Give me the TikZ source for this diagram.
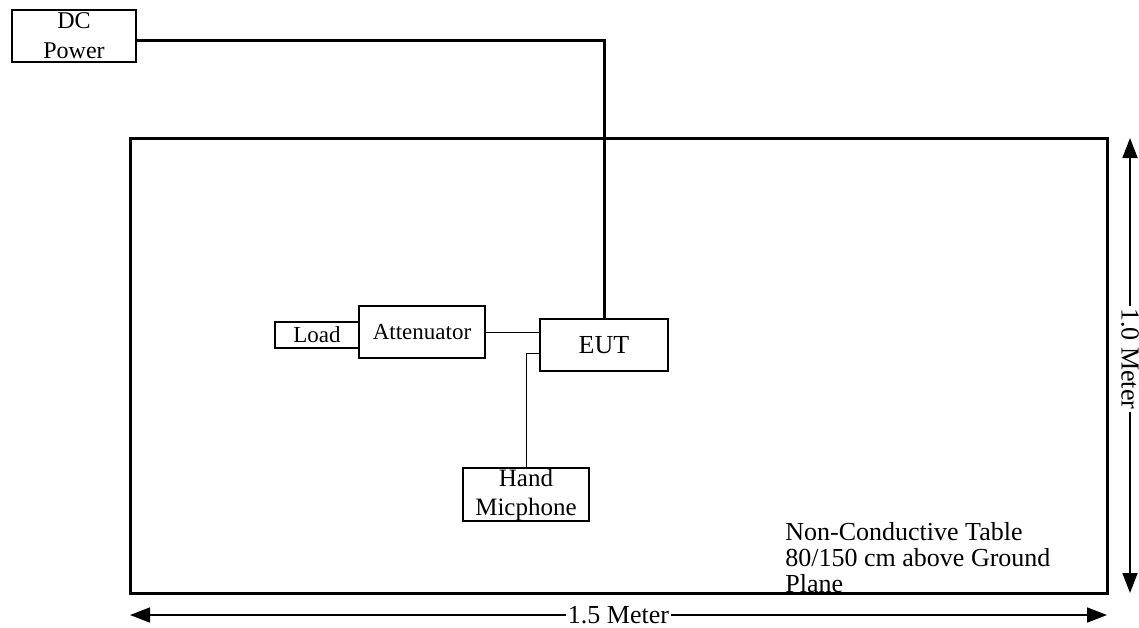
\documentclass[tikz,border=0pt]{standalone}
\usepackage{fontspec}
\setmainfont{Liberation Serif}
\usetikzlibrary{arrows.meta,positioning}

\begin{document}
\begin{tikzpicture}[x=0.5pt, y=-0.5pt,
  box/.style={draw, line width=0.65pt, inner sep=0pt, outer sep=0pt, align=center,
              font=\fontsize{13}{14.5}\selectfont},
  pwr/.style={line width=1.5pt},
  wire/.style={line width=0.5pt},
  dim/.style={{Triangle[length=10pt,width=7.5pt]}-{Triangle[length=10pt,width=7.5pt]}, line width=0.8pt},
  dimlabel/.style={fill=white, inner sep=1.2pt, font=\fontsize{13}{14.5}\selectfont}]
\useasboundingbox (0,0) rectangle (1139,627);
% table top
\node[draw, line width=1.5pt, inner sep=0pt, outer sep=0pt,
      minimum width=488.5pt, minimum height=227.5pt] (tbl) at (618.5,365.5) {};
\node[anchor=base west, align=left, inner sep=0pt, font=\fontsize{13}{13}\selectfont] (note)
  at (785,592) {Non-Conductive Table\\80/150 cm above Ground\\Plane};
\draw[dim] ([yshift=-11pt]tbl.south west) -- ([yshift=-11pt]tbl.south east)
  node[dimlabel, midway] (wlab) {1.5 Meter};
\draw[dim] ([xshift=11.5pt]tbl.north east) -- ([xshift=11.5pt]tbl.south east)
  node[dimlabel, pos=0.485, rotate=-90] (hlab) {1.0 Meter};

% equipment
\node[box, font=\fontsize{12}{15}\selectfont, minimum width=62pt, minimum height=26pt] (dc) at (74,36) {DC\\Power};
\node[box, font=\fontsize{11.5}{14}\selectfont, minimum width=63pt, minimum height=26pt] (att) at (422,332) {Attenuator};
\node[box, font=\fontsize{11.5}{14}\selectfont, minimum width=42pt, minimum height=13pt] (load) at (317,335) {Load};
\node[box, minimum width=64pt, minimum height=26pt] (eut) at (604,345) {EUT};
\node[box, font=\fontsize{12.5}{14.5}\selectfont, minimum width=63pt, minimum height=26.5pt] (mic) at (526,494.5) {Hand\\Micphone};

% cables
\draw[pwr] ([yshift=-2pt]dc.east) -| (eut.north);
\draw[wire] (att.east) -- (att.east -| eut.west);
\draw[wire] ([yshift=-4pt]eut.west) -| (mic.north);
\end{tikzpicture}
\end{document}
